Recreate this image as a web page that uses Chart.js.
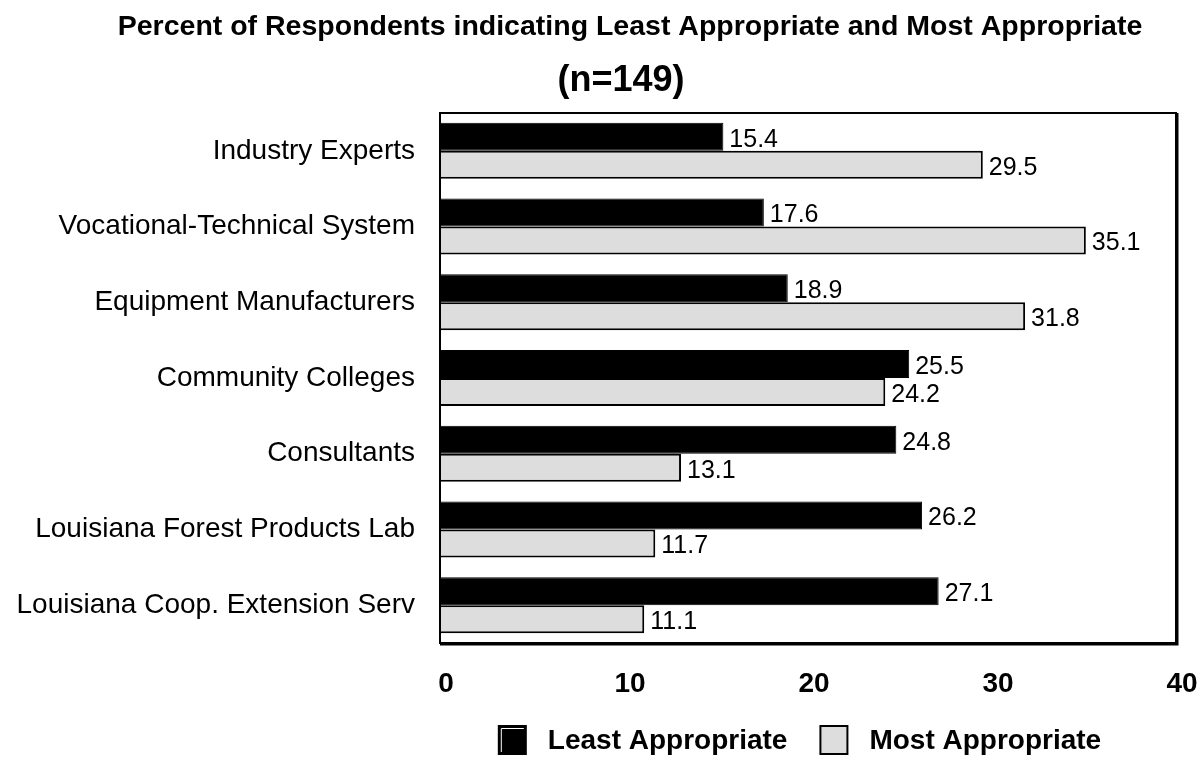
<!DOCTYPE html>
<html>
<head>
<meta charset="utf-8">
<script src="https://cdn.jsdelivr.net/npm/chart.js@4/dist/chart.umd.min.js"></script>
<style>
  html, body { margin: 0; padding: 0; background: #fff; }
  #myChart { display: block; }
</style>
</head>
<body>
<canvas id="myChart" width="1199" height="757"></canvas>
<script>
const categories = [
  'Industry Experts',
  'Vocational-Technical System',
  'Equipment Manufacturers',
  'Community Colleges',
  'Consultants',
  'Louisiana Forest Products Lab',
  'Louisiana Coop. Extension Serv'
];
const leastAppropriate = [15.4, 17.6, 18.9, 25.5, 24.8, 26.2, 27.1];
const mostAppropriate = [29.5, 35.1, 31.8, 24.2, 13.1, 11.7, 11.1];
const seriesNames = ['Least Appropriate', 'Most Appropriate'];
const titleLines = ['Percent of Respondents indicating Least Appropriate and Most Appropriate', '(n=149)'];

const FONT = '"Liberation Sans", Arial, sans-serif';
Chart.defaults.font.family = FONT;
Chart.defaults.color = '#000';

// box around the plot area, Excel style
const frame = {
  id: 'frame',
  afterDatasetsDraw(chart) {
    const a = chart.chartArea, c = chart.ctx;
    c.save();
    c.strokeStyle = '#000';
    c.lineWidth = 2;
    c.strokeRect(a.left, a.top, a.right - a.left, a.bottom - a.top);
    c.lineWidth = 3;
    c.beginPath();
    c.moveTo(a.left, a.bottom + 1);
    c.lineTo(a.right + 1, a.bottom + 1);
    c.lineTo(a.right + 1, a.top);
    c.stroke();
    c.restore();
  }
};

// value labels at the end of each bar
const valueLabels = {
  id: 'valueLabels',
  afterDatasetsDraw(chart) {
    const c = chart.ctx;
    c.save();
    c.font = '25px ' + FONT;
    c.fillStyle = '#000';
    c.textAlign = 'left';
    c.textBaseline = 'middle';
    chart.data.datasets.forEach((ds, i) => {
      chart.getDatasetMeta(i).data.forEach((bar, j) => {
        c.fillText(ds.data[j].toFixed(1), bar.x + 6, bar.y + 3);
      });
    });
    c.restore();
  }
};

// titles and legend
const headings = {
  id: 'headings',
  afterDraw(chart) {
    const c = chart.ctx;
    c.save();
    c.fillStyle = '#000';
    c.textAlign = 'center';
    c.textBaseline = 'middle';
    c.font = 'bold 28.5px ' + FONT;
    c.fillText(titleLines[0], 630, 27);
    c.font = 'bold 36px ' + FONT;
    c.fillText(titleLines[1], 621, 81);

    c.font = 'bold 28px ' + FONT;
    c.textAlign = 'left';
    const box = 27, gapText = 22, gapItem = 33;
    const w0 = c.measureText(seriesNames[0]).width;
    const w1 = c.measureText(seriesNames[1]).width;
    const total = box + gapText + w0 + gapItem + box + gapText + w1;
    let x = 800 - total / 2;
    const y = 740;
    chart.data.datasets.forEach((ds, i) => {
      c.fillStyle = ds.backgroundColor;
      c.fillRect(x, y - 14, box, 28);
      c.strokeStyle = '#000';
      c.lineWidth = 2;
      c.strokeRect(x, y - 14, box, 28);
      if (i === 0) {
        c.strokeStyle = '#fff';
        c.lineWidth = 1;
        c.beginPath();
        c.moveTo(x + 2.5, y + 12);
        c.lineTo(x + 2.5, y - 11.5);
        c.lineTo(x + box - 2, y - 11.5);
        c.stroke();
      }
      c.fillStyle = '#000';
      c.fillText(seriesNames[i], x + box + gapText, y + 1);
      x += box + gapText + (i === 0 ? w0 : w1) + gapItem;
    });
    c.restore();
  }
};

const ctx = document.getElementById('myChart');

new Chart(ctx, {
  type: 'bar',
  data: {
    labels: categories,
    datasets: [{
      label: seriesNames[0],
      data: leastAppropriate,
      backgroundColor: '#000000',
      borderColor: '#000000',
      borderWidth: 1,
      categoryPercentage: 0.74,
      barPercentage: 1
    }, {
      label: seriesNames[1],
      data: mostAppropriate,
      backgroundColor: '#DDDDDD',
      borderColor: '#000000',
      borderWidth: 2,
      categoryPercentage: 0.74,
      barPercentage: 1
    }]
  },
  options: {
    indexAxis: 'y',
    responsive: false,
    animation: false,
    layout: { padding: { top: 113, right: 23, bottom: 0, left: 0 } },
    plugins: {
      legend: { display: false },
      title: { display: false },
      tooltip: { enabled: false }
    },
    scales: {
      x: {
        min: 0,
        max: 40,
        grid: { display: false, drawTicks: false },
        border: { display: false },
        ticks: {
          stepSize: 10,
          padding: 24,
          labelOffset: 6,
          font: { size: 28, weight: 'bold' },
          color: '#000'
        },
        afterFit(scale) {
          scale.height = 114;
          scale.paddingRight = 0;
        }
      },
      y: {
        grid: { display: false, drawTicks: false },
        border: { display: false },
        ticks: {
          padding: 25,
          autoSkip: false,
          font: { size: 28 },
          color: '#000'
        },
        afterFit(scale) { scale.width = 440; }
      }
    }
  },
  plugins: [frame, valueLabels, headings]
});
</script>
</body>
</html>
